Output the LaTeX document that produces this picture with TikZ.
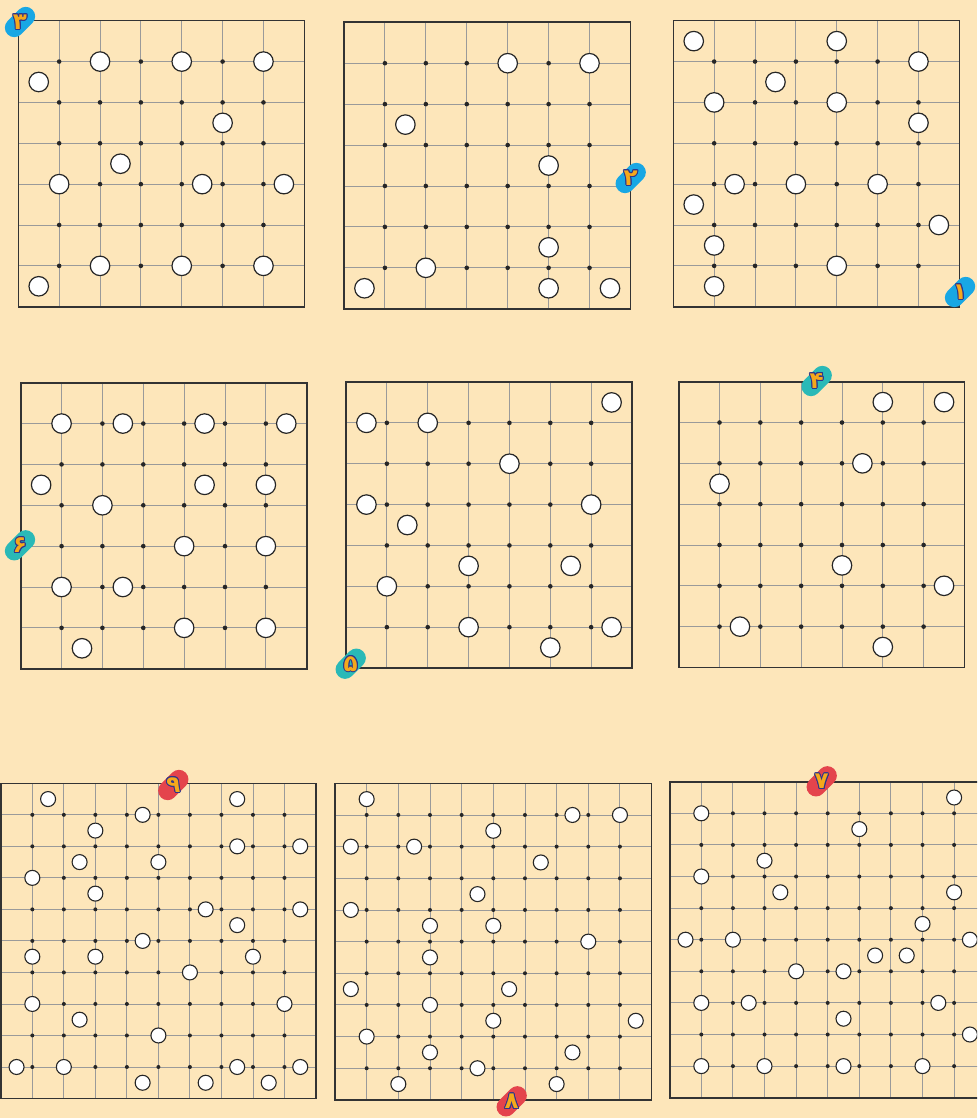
\documentclass[tikz,border=0pt]{standalone}
\usepackage{fontspec}
\usetikzlibrary{positioning}
\newfontfamily\farsifont[Script=Arabic]{DejaVu Sans}

\definecolor{paper}{HTML}{FDE6BA}
\definecolor{rulegray}{HTML}{9A9A9A}
\definecolor{framedark}{HTML}{333333}
\definecolor{tagblue}{HTML}{18A7E4}
\definecolor{tagteal}{HTML}{2AB9B7}
\definecolor{tagred}{HTML}{E4444C}
\definecolor{numorange}{HTML}{F5A81C}
\definecolor{inkblue}{HTML}{2E368C}

% board: x0, y0, cells, half cell, stones (i/j in half cells), size prefix
\newcommand{\board}[6]{%
  \def\bx{#1}\def\by{#2}\def\bh{#4}%
  \pgfmathtruncatemacro\bn{2*#3}%
  \pgfmathtruncatemacro\bm{#3-1}%
  \foreach \k in {1,...,\bm} {
    \draw[gridline] ({\bx+2*\k*\bh},\by) -- ({\bx+2*\k*\bh},{\by+\bn*\bh});
    \draw[gridline] (\bx,{\by+2*\k*\bh}) -- ({\bx+\bn*\bh},{\by+2*\k*\bh});
  }
  \draw[frame] (\bx,\by) rectangle ({\bx+\bn*\bh},{\by+\bn*\bh});
  \foreach \i in {1,...,\bm}
    \foreach \j in {1,...,\bm}
      \node[#6dot] at ({\bx+2*\i*\bh},{\by+2*\j*\bh}) {};
  \foreach \i/\j in {#5}
    \node[#6stone] at ({\bx+\i*\bh},{\by+\j*\bh}) {};
}

% number tag: name, position, colour, digit
\newcommand{\tagmark}[4]{%
  \node[tagpill, fill=#3] (#1) at (#2) {};
  \foreach \a in {0,30,...,330}
    \node[numeral, text=inkblue, shift={(\a:1pt)}] at (#1) {#4};
  \node[numeral, text=numorange] at (#1) {#4};
}

\begin{document}
\begin{tikzpicture}[
    x=1pt, y=-1pt,
    gridline/.style={draw=rulegray, line width=0.9pt},
    frame/.style={draw=framedark, line width=1.6pt},
    bigdot/.style={circle, fill=black!85, minimum size=4.6pt, inner sep=0pt},
    smalldot/.style={circle, fill=black!85, minimum size=4pt, inner sep=0pt},
    bigstone/.style={circle, draw=black!85, fill=white, line width=1.2pt,
                     minimum size=19.5pt, inner sep=0pt},
    smallstone/.style={circle, draw=black!85, fill=white, line width=1.1pt,
                       minimum size=15pt, inner sep=0pt},
    tagpill/.style={rectangle, rounded corners=9.5pt, minimum width=35pt,
                    minimum height=19pt, inner sep=0pt, rotate=45},
    numeral/.style={font=\farsifont\bfseries\fontsize{23}{23}\selectfont,
                    inner sep=0pt},
]

\useasboundingbox (0,0) rectangle (977,1118);
\clip (0,0) rectangle (977,1118);
\fill[paper] (0,0) rectangle (977,1118);

% --- top row ---
\board{18.3}{20.7}{7}{20.43}{4/2, 8/2, 12/2, 1/3, 10/5, 5/7, 2/8, 9/8, 13/8,
  4/12, 8/12, 12/12, 1/13}{big}
\board{344}{22.3}{7}{20.46}{8/2, 12/2, 3/5, 10/7, 10/11, 4/12, 1/13, 10/13,
  13/13}{big}
\board{673.3}{20.7}{7}{20.43}{1/1, 8/1, 12/2, 5/3, 2/4, 8/4, 12/5, 3/8, 6/8,
  10/8, 1/9, 13/10, 2/11, 8/12, 2/13}{big}

% --- middle row ---
\board{20.7}{382.7}{7}{20.43}{2/2, 5/2, 9/2, 13/2, 1/5, 9/5, 12/5, 4/6, 8/8,
  12/8, 2/10, 5/10, 8/12, 12/12, 3/13}{big}
\board{346}{382}{7}{20.43}{13/1, 1/2, 4/2, 8/4, 1/6, 12/6, 3/7, 6/9, 11/9,
  2/10, 6/12, 13/12, 10/13}{big}
\board{678.7}{381.7}{7}{20.41}{10/1, 13/1, 9/4, 2/5, 8/9, 13/10, 3/12,
  10/13}{big}

% --- bottom row ---
\board{0.8}{783.3}{10}{15.76}{3/1, 15/1, 9/2, 6/3, 15/4, 19/4, 5/5, 10/5, 2/6,
  6/7, 13/8, 19/8, 15/9, 9/10, 2/11, 6/11, 16/11, 12/12, 2/14, 18/14, 5/15,
  10/16, 1/18, 4/18, 15/18, 19/18, 9/19, 13/19, 17/19}{small}
\board{335}{783.3}{10}{15.83}{2/1, 15/2, 18/2, 10/3, 1/4, 5/4, 13/5, 9/7, 1/8,
  6/9, 10/9, 16/10, 6/11, 1/13, 11/13, 6/14, 10/15, 19/15, 2/16, 6/17, 15/17,
  9/18, 4/19, 14/19}{small}
\board{669.7}{781.7}{10}{15.8}{18/1, 2/2, 12/3, 6/5, 2/6, 7/7, 18/7, 16/9, 1/10,
  4/10, 19/10, 13/11, 15/11, 8/12, 11/12, 2/14, 5/14, 17/14, 11/15, 19/16,
  2/18, 6/18, 11/18, 16/18}{small}

% --- number tags ---
\tagmark{tag1}{960,292}{tagblue}{۱}
\tagmark{tag2}{630.7,178}{tagblue}{۲}
\tagmark{tag3}{20,22}{tagblue}{۳}
\tagmark{tag4}{816.7,381}{tagteal}{۴}
\tagmark{tag5}{350.7,663.7}{tagteal}{۵}
\tagmark{tag6}{20,545.3}{tagteal}{۶}
\tagmark{tag7}{821.7,781.3}{tagred}{۷}
\tagmark{tag8}{511.7,1101.3}{tagred}{۸}
\tagmark{tag9}{173.3,785}{tagred}{۹}

\end{tikzpicture}
\end{document}
